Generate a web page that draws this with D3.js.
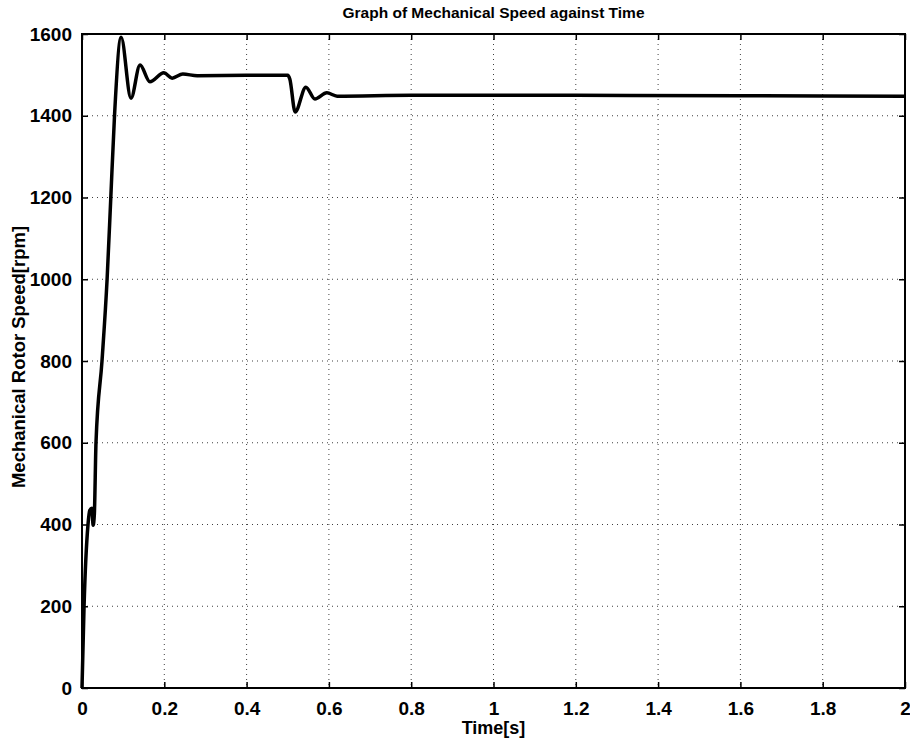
<!DOCTYPE html>
<html>
<head>
<meta charset="utf-8">
<script src="https://cdn.jsdelivr.net/npm/d3@7"></script>
<style>
  body { margin: 0; background: #fff; }
  text { font-family: "Liberation Sans", Arial, sans-serif; font-weight: bold; fill: #000; }
</style>
</head>
<body>
<div id="chart"></div>
<script>
// size of the page
const width = 910;
const height = 745;
const margin = { top: 34, right: 5, bottom: 57, left: 82 };

// tick values for both axes
const xTicks = [0, 0.2, 0.4, 0.6, 0.8, 1, 1.2, 1.4, 1.6, 1.8, 2];
const yTicks = [0, 200, 400, 600, 800, 1000, 1200, 1400, 1600];

// speed curve: time [s] and speed [rpm]
const times = [0, 0.005, 0.0146, 0.019, 0.024, 0.027, 0.030, 0.034, 0.0486, 0.061, 0.070, 0.079, 0.095,
    0.119, 0.141, 0.165, 0.199, 0.219, 0.245, 0.28, 0.4, 0.5, 0.505, 0.518, 0.544, 0.566, 0.595, 0.62,
    0.8, 1.2, 1.6, 2];
const speeds = [0, 200, 400, 435, 440, 398, 425, 600, 800, 1000, 1200, 1400, 1592,
    1443, 1524, 1483, 1505, 1492, 1502, 1498, 1499, 1499, 1490, 1409, 1470, 1441, 1456, 1448,
    1450, 1450, 1449, 1448];

const data = times.map((t, i) => ({ t: t, v: speeds[i] }));

const svg = d3.select("#chart")
    .append("svg")
    .attr("width", width)
    .attr("height", height);

const xScale = d3.scaleLinear()
    .domain([0, 2])
    .range([margin.left, width - margin.right]);

const yScale = d3.scaleLinear()
    .domain([0, 1600])
    .range([height - margin.bottom, margin.top]);

const plotW = width - margin.left - margin.right;
const plotH = height - margin.top - margin.bottom;

// dotted grid
const grid = svg.append("g").attr("id", "grid")
    .attr("stroke", "#000")
    .attr("stroke-width", 1)
    .attr("stroke-dasharray", "1,4")
    .attr("opacity", 0.75);

grid.selectAll(".gx")
    .data(xTicks.slice(1, -1))
    .enter()
    .append("line")
    .attr("x1", d => xScale(d)).attr("x2", d => xScale(d))
    .attr("y1", margin.top).attr("y2", height - margin.bottom);

grid.selectAll(".gy")
    .data(yTicks.slice(1, -1))
    .enter()
    .append("line")
    .attr("x1", margin.left).attr("x2", width - margin.right)
    .attr("y1", d => yScale(d)).attr("y2", d => yScale(d));

// axes, ticks pointing inward
const xAxis = d3.axisBottom(xScale)
    .tickValues(xTicks)
    .tickFormat(d3.format("~g"))
    .tickSizeInner(-6)
    .tickSizeOuter(0)
    .tickPadding(14);

const yAxis = d3.axisLeft(yScale)
    .tickValues(yTicks)
    .tickFormat(d3.format("d"))
    .tickSizeInner(-6)
    .tickSizeOuter(0)
    .tickPadding(10);

svg.append("g").attr("id", "x-axis")
    .attr("transform", "translate(0," + (height - margin.bottom) + ")")
    .call(xAxis)
    .call(g => g.select(".domain").remove())
    .selectAll("text")
    .style("font-size", "19px");

svg.append("g").attr("id", "y-axis")
    .attr("transform", "translate(" + margin.left + ",0)")
    .call(yAxis)
    .call(g => g.select(".domain").remove())
    .selectAll("text")
    .style("font-size", "19px");

// top and right ticks (no labels)
svg.append("g")
    .attr("transform", "translate(0," + margin.top + ")")
    .call(d3.axisTop(xScale).tickValues(xTicks).tickSizeInner(-6).tickSizeOuter(0).tickFormat(""))
    .call(g => g.select(".domain").remove());

svg.append("g")
    .attr("transform", "translate(" + (width - margin.right) + ",0)")
    .call(d3.axisRight(yScale).tickValues(yTicks).tickSizeInner(-6).tickSizeOuter(0).tickFormat(""))
    .call(g => g.select(".domain").remove());

svg.selectAll(".tick line").attr("stroke-width", 1.5);

// frame
svg.append("rect")
    .attr("x", margin.left)
    .attr("y", margin.top)
    .attr("width", plotW)
    .attr("height", plotH)
    .attr("fill", "none")
    .attr("stroke", "#000")
    .attr("stroke-width", 2);

// speed line
svg.append("path")
    .datum(data)
    .attr("fill", "none")
    .attr("stroke", "#000")
    .attr("stroke-width", 3.5)
    .attr("stroke-linejoin", "round")
    .attr("d", d3.line()
        .x(d => xScale(d.t))
        .y(d => yScale(d.v))
        .curve(d3.curveMonotoneX));

// title and axis labels
svg.append("text")
    .attr("x", margin.left + plotW / 2)
    .attr("y", 18)
    .style("text-anchor", "middle")
    .style("font-size", "15.5px")
    .text("Graph of Mechanical Speed against Time");

svg.append("text")
    .attr("x", margin.left + plotW / 2)
    .attr("y", 734)
    .style("text-anchor", "middle")
    .style("font-size", "18px")
    .text("Time[s]");

svg.append("text")
    .attr("transform", "rotate(-90)")
    .attr("x", -357)
    .attr("y", 25)
    .style("text-anchor", "middle")
    .style("font-size", "18.5px")
    .text("Mechanical Rotor Speed[rpm]");
</script>
</body>
</html>
